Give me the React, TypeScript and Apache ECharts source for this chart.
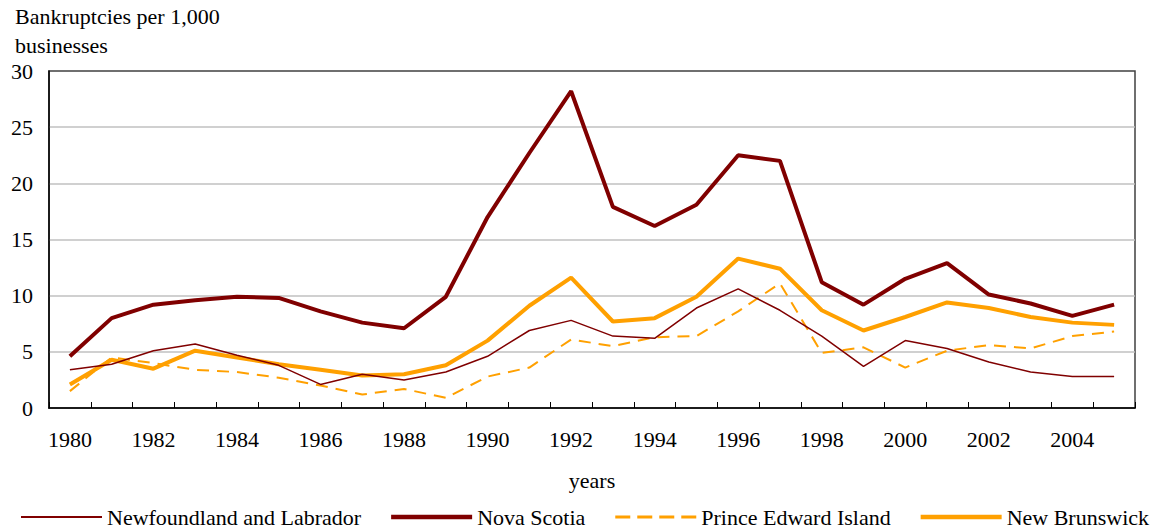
import React, { useEffect, useRef } from "react";
import * as echarts from "echarts";

const years = [
  "1980", "1981", "1982", "1983", "1984", "1985", "1986", "1987", "1988", "1989",
  "1990", "1991", "1992", "1993", "1994", "1995", "1996", "1997", "1998", "1999",
  "2000", "2001", "2002", "2003", "2004", "2005",
];

const newfoundland = [3.4, 3.9, 5.1, 5.7, 4.7, 3.8, 2.1, 3.0, 2.5, 3.2, 4.6, 6.9, 7.8, 6.4, 6.2, 8.9, 10.6, 8.7, 6.4, 3.7, 6.0, 5.3, 4.1, 3.2, 2.8, 2.8];
const novaScotia = [4.6, 8.0, 9.2, 9.6, 9.9, 9.8, 8.6, 7.6, 7.1, 9.9, 17.0, 22.7, 28.2, 17.9, 16.2, 18.1, 22.5, 22.0, 11.2, 9.2, 11.5, 12.9, 10.1, 9.3, 8.2, 9.2];
const princeEdward = [1.5, 4.5, 4.0, 3.4, 3.2, 2.7, 2.0, 1.2, 1.7, 0.9, 2.8, 3.6, 6.1, 5.5, 6.3, 6.4, 8.6, 11.1, 4.9, 5.4, 3.6, 5.1, 5.6, 5.3, 6.4, 6.8];
const newBrunswick = [2.1, 4.3, 3.5, 5.1, 4.5, 3.9, 3.4, 2.9, 3.0, 3.8, 6.0, 9.1, 11.6, 7.7, 8.0, 9.9, 13.3, 12.4, 8.7, 6.9, 8.1, 9.4, 8.9, 8.1, 7.6, 7.4];

const seriesNames = ["Newfoundland and Labrador", "Nova Scotia", "Prince Edward Island", "New Brunswick"];
const yTitle = "Bankruptcies per 1,000\nbusinesses";
const xTitle = "years";

const FONT = '"Liberation Serif", "Times New Roman", serif';
const DARK = "#800000";
const ORANGE = "#FFA000";

const ICON_THIN = "path://M0,0H81V2H0Z";
const ICON_THICK = "path://M0,0H81V4.5H0Z";
const ICON_DASH = "path://M0,0H15V3H0Z M22,0H37V3H22Z M44,0H59V3H44Z M66,0H81V3H66Z";

export default function App() {
  const ref = useRef<HTMLDivElement>(null);
  useEffect(() => {
    if (!ref.current) return;
    const chart = echarts.init(ref.current, null, { renderer: "svg" });
    chart.setOption({
      animation: false,
      textStyle: { fontFamily: FONT, color: "#000" },
      title: {
        text: yTitle,
        left: 10,
        top: -3,
        textStyle: { fontFamily: FONT, fontSize: 22, fontWeight: "normal", color: "#000", lineHeight: 29 },
      },
      grid: { left: 49, right: 16, top: 71, bottom: 124, show: true, borderColor: "#404040", borderWidth: 1.5 },
      legend: {
        left: 21,
        top: 506,
        padding: 0,
        width: 1500,
        itemWidth: 81,
        itemHeight: 14,
        itemGap: 30,
        itemStyle: { borderWidth: 0 },
        textStyle: { fontFamily: FONT, fontSize: 22, color: "#000" },
        data: [
          { name: seriesNames[0], icon: ICON_THIN },
          { name: seriesNames[1], icon: ICON_THICK },
          { name: seriesNames[2], icon: ICON_DASH },
          { name: seriesNames[3], icon: ICON_THICK },
        ],
      },
      xAxis: {
        type: "category",
        data: years,
        boundaryGap: true,
        name: xTitle,
        nameLocation: "middle",
        nameGap: 61,
        nameTextStyle: { fontFamily: FONT, fontSize: 22, color: "#000" },
        axisLine: { lineStyle: { color: "#000", width: 1.5 } },
        axisTick: { show: true, inside: true, length: 6, interval: 0, lineStyle: { color: "#000" } },
        axisLabel: { interval: 1, margin: 20, fontFamily: FONT, fontSize: 22, color: "#000" },
        splitLine: { show: false },
      },
      yAxis: {
        type: "value",
        min: 0,
        max: 30,
        interval: 5,
        axisLine: { show: true, lineStyle: { color: "#000", width: 1.5 } },
        axisTick: { show: false },
        axisLabel: { margin: 16, fontFamily: FONT, fontSize: 22, color: "#000" },
        splitLine: { show: true, showMinLine: false, showMaxLine: false, lineStyle: { color: "#c0c0c0", width: 1.5 } },
      },
      series: [
        {
          name: seriesNames[0],
          type: "line",
          data: newfoundland,
          symbol: "none",
          lineStyle: { color: DARK, width: 1.5 },
          itemStyle: { color: DARK },
          z: 4,
        },
        {
          name: seriesNames[1],
          type: "line",
          data: novaScotia,
          symbol: "none",
          lineStyle: { color: DARK, width: 4 },
          itemStyle: { color: DARK },
          z: 3,
        },
        {
          name: seriesNames[2],
          type: "line",
          data: princeEdward,
          symbol: "none",
          lineStyle: { color: ORANGE, width: 2, type: [12, 8] },
          itemStyle: { color: ORANGE },
          z: 2,
        },
        {
          name: seriesNames[3],
          type: "line",
          data: newBrunswick,
          symbol: "none",
          lineStyle: { color: ORANGE, width: 4 },
          itemStyle: { color: ORANGE },
          z: 3,
        },
      ],
    });
    return () => chart.dispose();
  }, []);
  return <div ref={ref} style={{ width: 1151, height: 532, position: "absolute", left: 0, top: 0 }} />;
}
